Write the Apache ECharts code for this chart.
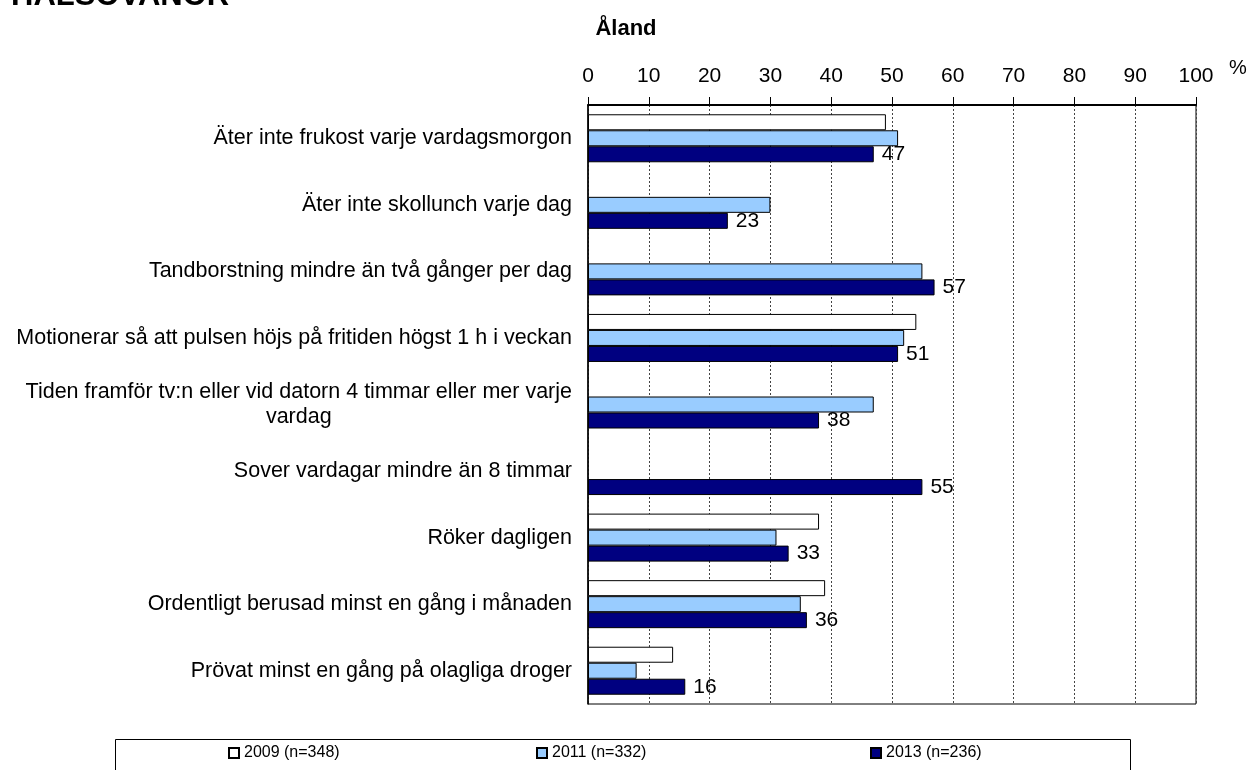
<!DOCTYPE html>
<html>
<head>
<meta charset="utf-8">
<script src="https://cdn.jsdelivr.net/npm/echarts@6/dist/echarts.min.js"></script>
<style>
html,body{margin:0;padding:0;background:#fff;}
#chart{width:1249px;height:770px;}
</style>
</head>
<body>
<div id="chart"></div>
<script>
const categories = [
  "Äter inte frukost varje vardagsmorgon",
  "Äter inte skollunch varje dag",
  "Tandborstning mindre än två gånger per dag",
  "Motionerar så att pulsen höjs på fritiden högst 1 h i veckan",
  "Tiden framför tv:n eller vid datorn 4 timmar eller mer varje\nvardag",
  "Sover vardagar mindre än 8 timmar",
  "Röker dagligen",
  "Ordentligt berusad minst en gång i månaden",
  "Prövat minst en gång på olagliga droger"
];
const seriesNames = ["2009 (n=348)", "2011 (n=332)", "2013 (n=236)"];
const values2009 = [49, null, null, 54, null, null, 38, 39, 14];
const values2011 = [51, 30, 55, 52, 47, null, 31, 35, 8];
const values2013 = [47, 23, 57, 51, 38, 55, 33, 36, 16];
const xTicks = [0, 100, 10];

const FONT = "'Liberation Sans', Arial, Helvetica, sans-serif";
const chart = echarts.init(document.getElementById('chart'), null, {renderer: 'canvas'});

function catLabel(v) {
  if (v.indexOf('\n') >= 0) {
    return v.split('\n').map(l => '{c|' + l + '}').join('\n');
  }
  return v;
}

const colors = ['#FFFFFF', '#99CCFF', '#000080'];
const data = [values2009, values2011, values2013];

const series = seriesNames.map((name, i) => ({
  name: name,
  type: 'bar',
  data: data[i],
  barWidth: 16,
  barGap: '0%',
  itemStyle: {color: colors[i], borderColor: '#000', borderWidth: 1},
  label: i === 2 ? {
    show: true, position: 'right', distance: 8,
    color: '#000', fontSize: 21, fontFamily: FONT
  } : {show: false},
  emphasis: {disabled: true}
}));

const legendLefts = [228, 536, 870];
const legends = seriesNames.map((name, i) => ({
  data: [name],
  left: legendLefts[i],
  top: 745,
  padding: 0,
  itemWidth: 10,
  itemHeight: 10,
  icon: 'rect',
  selectedMode: false,
  textStyle: {fontSize: 16, color: '#000', fontFamily: FONT}
}));

const option = {
  animation: false,
  backgroundColor: '#fff',
  textStyle: {fontFamily: FONT},
  grid: {left: 588, right: 53, top: 105, bottom: 66, show: true, borderColor: '#000', borderWidth: 1},
  xAxis: {
    type: 'value', position: 'top', min: xTicks[0], max: xTicks[1], interval: xTicks[2],
    axisLine: {show: true, lineStyle: {color: '#000', width: 2}},
    axisTick: {show: true, length: 8, lineStyle: {color: '#000'}},
    axisLabel: {fontSize: 21, color: '#000', margin: 18, fontFamily: FONT},
    splitLine: {show: true, lineStyle: {color: '#444', type: [2, 2], width: 1}}
  },
  yAxis: {
    type: 'category', inverse: true, data: categories,
    axisLine: {show: true, lineStyle: {color: '#000', width: 1.5}},
    axisTick: {show: false},
    axisLabel: {
      fontSize: 21.5, color: '#000', margin: 16, fontFamily: FONT, lineHeight: 25,
      formatter: catLabel,
      rich: {c: {align: 'center', fontSize: 21.5, lineHeight: 25, color: '#000', fontFamily: FONT}}
    }
  },
  legend: legends,
  series: series,
  graphic: [
    {type: 'text', left: 11, top: -19, style: {text: 'HÄLSOVANOR', font: 'bold 31px ' + FONT, fill: '#000'}},
    {type: 'text', x: 626, y: 29, style: {text: 'Åland', font: 'bold 22px ' + FONT, fill: '#000', align: 'center', verticalAlign: 'middle'}},
    {type: 'text', x: 1238, y: 68, style: {text: '%', font: '20px ' + FONT, fill: '#000', align: 'center', verticalAlign: 'middle'}},
    {type: 'rect', shape: {x: 115.5, y: 739.5, width: 1015, height: 60}, style: {fill: 'none', stroke: '#000', lineWidth: 1}, z: -1}
  ]
};
chart.setOption(option);
</script>
</body>
</html>
